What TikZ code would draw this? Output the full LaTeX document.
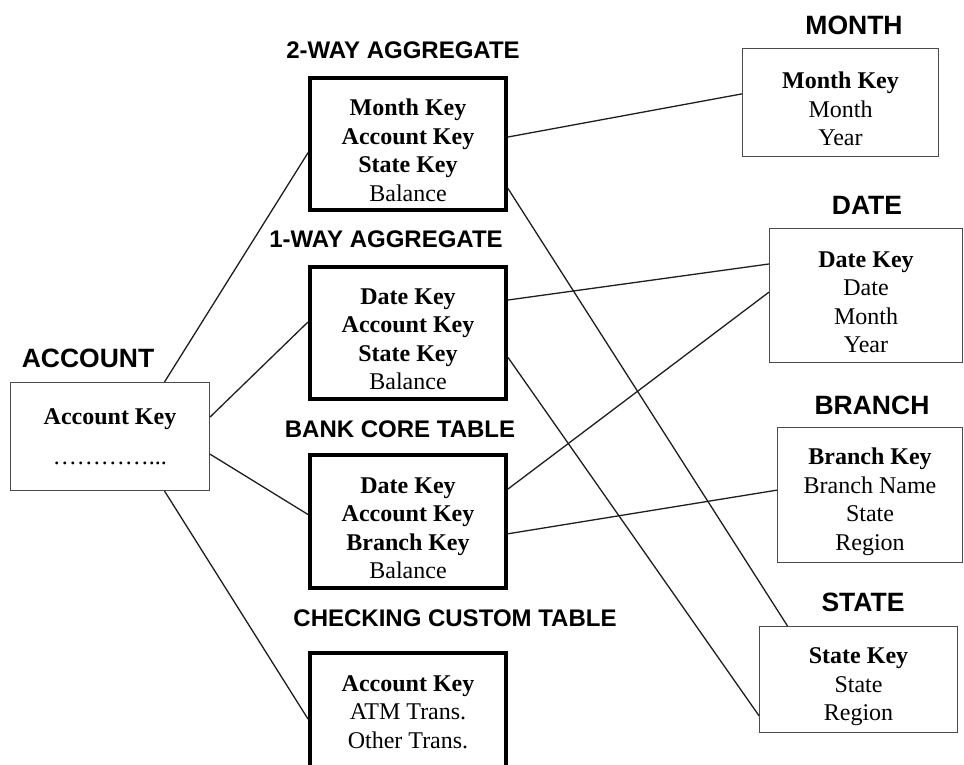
\documentclass[tikz,border=0pt]{standalone}
\usepackage{fontspec}
\setmainfont{Liberation Serif}
\newfontfamily\headfont{Liberation Sans}
\usepackage{tikz}
\usetikzlibrary{positioning}
\definecolor{boxgray}{RGB}{75,75,75}
\definecolor{linkgray}{RGB}{30,30,30}
\tikzset{
  dimbox/.style={rectangle, draw=boxgray, line width=1.3pt, align=center,
    inner sep=0pt, font=\fontsize{24}{28.5}\selectfont},
  threerows/.style={dimbox, text height=86.5pt},
  fourrows/.style={dimbox, text height=115pt},
  factbox/.style={draw=black, line width=4pt, minimum width=196pt,
    minimum height=132pt},
  dimtitle/.style={inner sep=0pt, font=\headfont\bfseries\fontsize{26.5}{30}\selectfont},
  facttitle/.style={inner sep=0pt, font=\headfont\bfseries\fontsize{24}{28}\selectfont},
  link/.style={line width=1.3pt, draw=linkgray},
}

\begin{document}
\begin{tikzpicture}[x=1pt, y=-1pt]
  \useasboundingbox (0,0) rectangle (964,765);
  % account dimension
  \node[dimbox, minimum width=198.7pt, minimum height=107.7pt] (acct) at (110,436.5)
    {\textbf{Account Key}\\[12pt]…………...};
  \node[dimtitle, above=14.5pt of acct, xshift=-22pt] (accttitle) {ACCOUNT};
  % fact tables
  \node[fourrows, factbox] (w2) at (408,144)
    {\textbf{Month Key}\\ \textbf{Account Key}\\ \textbf{State Key}\\ Balance};
  \node[facttitle, above=17.4pt of w2, xshift=-5pt] (w2title) {2-WAY AGGREGATE};
  \node[fourrows, factbox] (w1) at (408,332.5)
    {\textbf{Date Key}\\ \textbf{Account Key}\\ \textbf{State Key}\\ Balance};
  \node[facttitle, above=16.4pt of w1, xshift=-22pt] (w1title) {1-WAY AGGREGATE};
  \node[fourrows, factbox, minimum height=133pt] (bank) at (408,521.5)
    {\textbf{Date Key}\\ \textbf{Account Key}\\ \textbf{Branch Key}\\ Balance};
  \node[facttitle, above=15.4pt of bank, xshift=-8pt] (banktitle) {BANK CORE TABLE};
  \node[dimbox, factbox, text depth=14pt] (check) at (408,719)
    {\textbf{Account Key}\\ ATM Trans.\\ Other Trans.};
  \node[facttitle, above=24.4pt of check, xshift=47pt] (checktitle) {CHECKING CUSTOM TABLE};
  % other dimensions
  \node[threerows, minimum width=195.7pt, minimum height=107.7pt] (month) at (840.5,102.5)
    {\textbf{Month Key}\\ Month\\ Year};
  \node[dimtitle, above=13.5pt of month, xshift=13.5pt] (monthtitle) {MONTH};
  \node[fourrows, minimum width=192.7pt, minimum height=133.7pt] (date) at (866,295.5)
    {\textbf{Date Key}\\ Date\\ Month\\ Year};
  \node[dimtitle, above=13.5pt of date, xshift=1pt] (datetitle) {DATE};
  \node[fourrows, text height=116pt, minimum width=184.7pt, minimum height=134.7pt] (branch) at (870,495)
    {\textbf{Branch Key}\\ Branch Name\\ State\\ Region};
  \node[dimtitle, above=12.5pt of branch, xshift=2pt] (branchtitle) {BRANCH};
  \node[threerows, text height=87.5pt, minimum width=197.7pt, minimum height=105.7pt] (state) at (858.5,679.5)
    {\textbf{State Key}\\ State\\ Region};
  \node[dimtitle, above=14.5pt of state, xshift=4.5pt] (statetitle) {STATE};
  % links
  \draw[link] (acct.45) -- (w2.185);
  \draw[link] (acct.11) -- (w1.174);
  \draw[link] (acct.-10) -- (bank.176);
  \draw[link] (acct.-45) -- (check.west);
  \draw[link] (w2.4) -- (month.175);
  \draw[link] (w2.-24) -- (state.143);
  \draw[link] (w1.18) -- (date.162);
  \draw[link] (w1.-14) -- (state.200);
  \draw[link] (bank.18) -- (date.178);
  \draw[link] (bank.-7) -- (branch.177);
\end{tikzpicture}
\end{document}
